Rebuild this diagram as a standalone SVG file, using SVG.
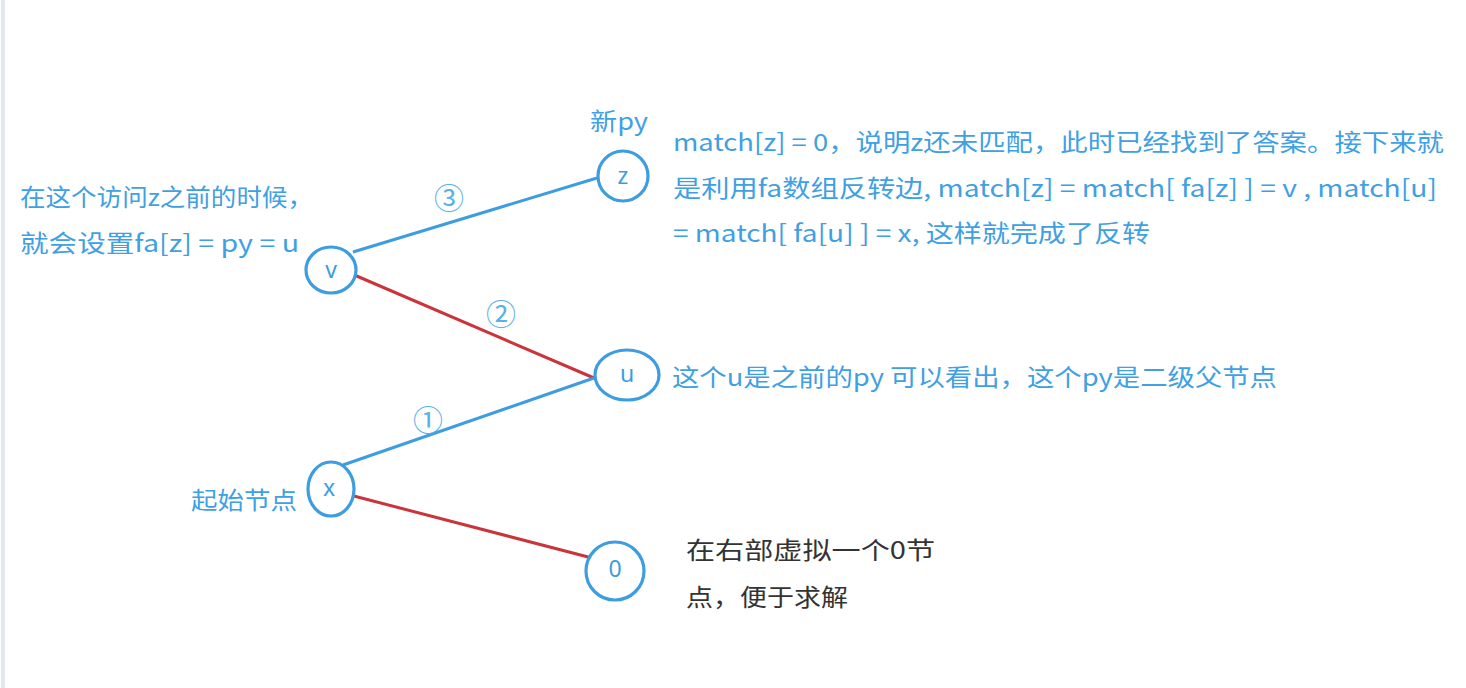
<svg xmlns="http://www.w3.org/2000/svg" width="1466" height="688" viewBox="0 0 1466 688">
<style>
.t{font-family:"Noto Sans CJK SC","Noto Sans",sans-serif;font-size:24px;fill:#3fa0e3}
.k{font-family:"Noto Sans CJK SC","Noto Sans",sans-serif;font-size:24px;fill:#333333}
.n{font-family:"Noto Sans","Noto Sans CJK SC",sans-serif;font-size:23px;fill:#3d9de0;text-anchor:middle;dominant-baseline:central}
.c{font-family:"Noto Sans CJK SC","Noto Sans",sans-serif;font-size:30px;fill:#5ab0ea;text-anchor:middle;dominant-baseline:central}
.node{fill:#ffffff;stroke:#3d9de0;stroke-width:3.2}
.eb{stroke:#3d9de0;stroke-width:3;fill:none}
.er{stroke:#c9353b;stroke-width:3;fill:none}
</style>
<rect x="0" y="0" width="1466" height="688" fill="#ffffff"/>
<line x1="3" y1="0" x2="3" y2="688" stroke="#e3e8f0" stroke-width="4"/>
<g id="connectors">
<line class="eb" x1="353" y1="252" x2="597" y2="178"/>
<line class="er" x1="352" y1="274" x2="594" y2="378"/>
<line class="eb" x1="343" y1="465" x2="594" y2="378"/>
<line class="er" x1="350" y1="495" x2="592" y2="558"/>
<text class="c" x="449" y="196">③</text>
<text class="c" x="501" y="312">②</text>
<text class="c" x="428" y="418">①</text>
</g>
<g id="node-z">
<ellipse class="node" cx="623" cy="176" rx="25" ry="25"/>
<text class="n" x="623" y="175">z</text>
</g>
<g id="node-v">
<ellipse class="node" cx="331" cy="270" rx="25" ry="23"/>
<text class="n" x="331" y="269">v</text>
</g>
<g id="node-u">
<ellipse class="node" cx="627" cy="375" rx="32" ry="25"/>
<text class="n" x="627" y="373">u</text>
</g>
<g id="node-x">
<ellipse class="node" cx="331" cy="489" rx="23" ry="27"/>
<text class="n" x="329" y="487">x</text>
</g>
<g id="node-0">
<ellipse class="node" cx="615" cy="571" rx="29" ry="29"/>
<text class="n" x="615" y="568">0</text>
</g>
<g id="labels">
<text class="t" x="590" y="130" textLength="58" lengthAdjust="spacingAndGlyphs">新py</text>
<text class="t" x="20" y="206" textLength="293" lengthAdjust="spacingAndGlyphs">在这个访问z之前的时候，</text>
<text class="t" x="20" y="252" textLength="279" lengthAdjust="spacingAndGlyphs">就会设置fa[z] = py = u</text>
<text class="t" x="673" y="151" textLength="771" lengthAdjust="spacingAndGlyphs">match[z] = 0，说明z还未匹配，此时已经找到了答案。接下来就</text>
<text class="t" x="673" y="197" textLength="764" lengthAdjust="spacingAndGlyphs">是利用fa数组反转边, match[z] = match[ fa[z] ] = v , match[u]</text>
<text class="t" x="673" y="242" textLength="477" lengthAdjust="spacingAndGlyphs">= match[ fa[u] ] = x, 这样就完成了反转</text>
<text class="t" x="672" y="386" textLength="605" lengthAdjust="spacingAndGlyphs">这个u是之前的py  可以看出，这个py是二级父节点</text>
<text class="t" x="191" y="509" textLength="106" lengthAdjust="spacingAndGlyphs">起始节点</text>
<text class="k" x="686" y="559" textLength="249" lengthAdjust="spacingAndGlyphs">在右部虚拟一个0节</text>
<text class="k" x="686" y="606" textLength="162" lengthAdjust="spacingAndGlyphs">点，便于求解</text>
</g>
</svg>
